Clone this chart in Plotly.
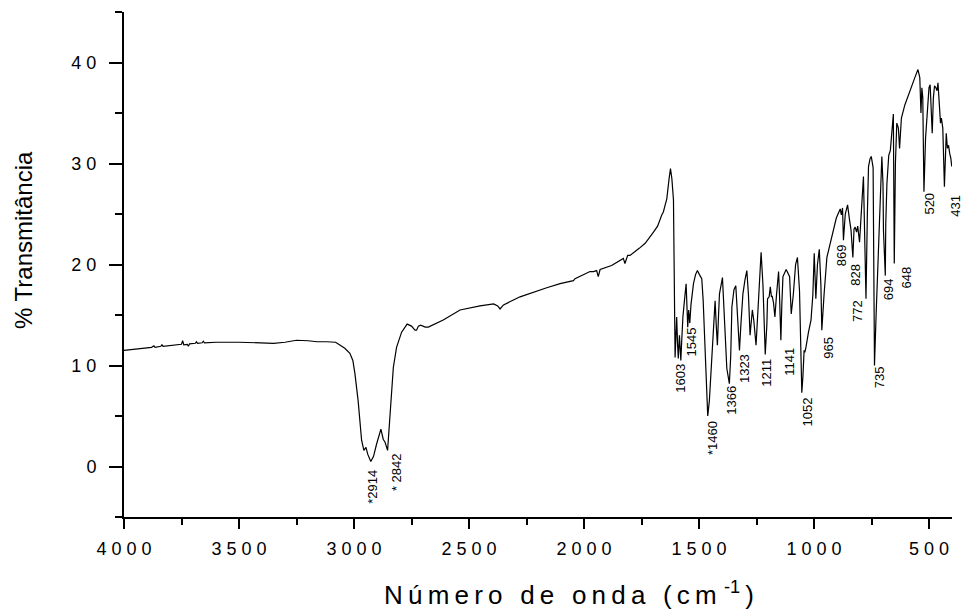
import plotly.graph_objects as go

# ---------------- data ----------------
wavenumber = [
    4000, 3960, 3920, 3880, 3870, 3865, 3840, 3835, 3830, 3800, 3750, 3745, 3740, 3725, 3720, 3715,
    3690, 3685, 3680, 3660, 3655, 3650, 3600, 3500, 3400, 3350, 3300, 3250, 3200, 3160, 3120, 3080,
    3060, 3040, 3018, 3005, 2996, 2982, 2967, 2957, 2948, 2940, 2927, 2915, 2902, 2883, 2873, 2865,
    2854, 2844, 2829, 2815, 2793, 2769, 2750, 2735, 2728, 2720, 2710, 2690, 2677, 2612, 2539, 2452,
    2393, 2375, 2365, 2350, 2278, 2162, 2104, 2046, 2039, 1974, 1959, 1945, 1938, 1930, 1916, 1880,
    1829, 1822, 1810, 1800, 1760, 1734, 1698, 1680, 1662, 1655, 1647, 1640, 1630, 1624, 1618, 1611,
    1604, 1601, 1597, 1593, 1590, 1585, 1579, 1575, 1570, 1563, 1556, 1551, 1549, 1545, 1540, 1535,
    1524, 1515, 1507, 1498, 1488, 1482, 1476, 1462, 1455, 1444, 1435, 1430, 1425, 1420, 1415, 1411,
    1398, 1394, 1391, 1385, 1379, 1368, 1362, 1357, 1348, 1340, 1332, 1328, 1324, 1318, 1309, 1300,
    1292, 1285, 1278, 1272, 1268, 1262, 1252, 1240, 1230, 1222, 1212, 1205, 1202, 1195, 1190, 1185,
    1182, 1176, 1170, 1163, 1154, 1150, 1144, 1140, 1135, 1121, 1110, 1106, 1099, 1090, 1080, 1072,
    1063, 1058, 1053, 1048, 1043, 1040, 1035, 1024, 1013, 1005, 999, 992, 985, 977, 970, 966,
    962, 956, 944, 922, 903, 886, 881, 876, 872, 864, 854, 846, 839, 831, 826, 821,
    815, 810, 802, 785, 774, 768, 763, 756, 751, 743, 737, 730, 719, 712, 705, 700,
    698, 690, 688, 683, 675, 668, 660, 655, 651, 646, 640, 633, 628, 620, 605, 590,
    575, 560, 548, 540, 535, 531, 527, 522, 515, 508, 500, 495, 490, 486, 481, 476,
    470, 465, 461, 455, 450, 446, 440, 433, 428, 425, 420, 415, 410, 405, 401,
]
transmittance = [
    11.5, 11.6, 11.7, 11.8, 11.95, 11.8, 11.9, 12.05, 11.9, 12.0, 12.1, 12.45, 12.05, 12.1, 11.9, 12.15,
    12.2, 12.35, 12.2, 12.25, 12.4, 12.25, 12.3, 12.3, 12.2, 12.2, 12.3, 12.5, 12.45, 12.35, 12.35, 12.3,
    12.0, 11.7, 11.2, 10.5, 9.2, 6.5, 2.6, 1.6, 1.9, 1.2, 0.5, 1.0, 2.2, 3.7, 2.7, 2.4,
    1.6, 4.9, 9.8, 11.8, 13.3, 14.1, 13.9, 13.5, 13.5, 13.9, 14.0, 13.8, 13.8, 14.5, 15.5, 15.9,
    16.1, 15.9, 15.6, 16.0, 16.8, 17.7, 18.1, 18.4, 18.6, 19.3, 19.3, 19.4, 18.8, 19.5, 19.6, 19.9,
    20.6, 20.1, 20.9, 20.9, 21.6, 22.1, 23.2, 23.8, 24.9, 25.2, 25.9, 26.5, 28.5, 29.5, 28.5, 26.4,
    10.8, 12.0, 14.8, 12.0, 10.7, 13.0, 10.5, 12.5, 14.8, 16.5, 18.1, 15.0, 13.8, 15.5, 14.2, 16.0,
    18.1, 19.0, 19.4, 19.0, 18.6, 16.5, 12.8, 5.0, 6.5, 10.8, 14.5, 16.4, 14.0, 12.0, 15.0, 17.1,
    18.7, 17.0, 14.5, 12.0, 9.7, 8.2, 11.0, 15.8, 17.5, 17.9, 15.0, 12.5, 11.5, 14.0, 17.1, 18.5,
    19.4, 17.0, 13.0, 14.5, 15.5, 14.5, 12.0, 17.0, 21.2, 18.0, 11.1, 14.0, 16.6, 16.8, 17.8, 16.8,
    16.9, 16.2, 14.8, 17.0, 19.3, 17.0, 12.5, 16.0, 18.8, 19.5, 19.0, 18.8, 15.1, 17.0, 20.0, 20.7,
    17.4, 12.0, 7.3, 9.0, 11.5, 11.3, 11.8, 13.3, 14.5, 17.0, 21.1, 16.6, 20.0, 21.5, 18.0, 13.5,
    15.5, 17.1, 20.7, 22.7, 24.6, 25.5, 24.9, 25.6, 22.4, 25.0, 25.9, 24.5, 23.4, 20.7, 23.5, 23.7,
    23.2, 23.8, 22.2, 28.7, 16.6, 25.0, 29.7, 30.5, 30.7, 29.6, 10.0, 15.0, 21.4, 27.0, 30.7, 28.0,
    23.4, 18.9, 24.0, 28.0, 30.8, 31.3, 34.0, 34.9, 20.1, 30.0, 34.0, 33.5, 31.5, 34.5, 35.8, 36.8,
    37.8, 38.6, 39.3, 38.5, 35.0, 37.5, 36.5, 27.2, 32.5, 34.5, 37.5, 37.8, 35.5, 33.0, 36.5, 37.7,
    37.5, 37.2, 38.0, 36.0, 34.0, 34.5, 33.5, 27.7, 32.5, 33.0, 31.5, 31.8, 31.0, 30.5, 29.7,
]

# peak labels and their centre positions (wavenumber, %T)
peak_labels = ["*2914", "* 2842", "1603", "1545", "*1460", "1366", "1323", "1211", "1141",
               "1052", "965", "869", "828", "772", "735", "694", "648", "520", "431"]
label_x = [2917, 2815, 1582, 1534, 1444, 1357, 1302, 1208, 1107,
           1028, 937, 879, 821, 809, 715, 676, 596, 497, 431]
label_y = [-2.0, -0.6, 8.7, 12.3, 2.8, 6.6, 9.7, 9.3, 10.4,
           5.4, 11.8, 20.9, 19.0, 15.4, 8.8, 17.5, 18.7, 26.0, 25.8]

x_tick_vals = [4000, 3500, 3000, 2500, 2000, 1500, 1000, 500]
y_tick_vals = [0, 10, 20, 30, 40]

x_title_words = ["Número", "de", "onda"]
y_title = "% Transmitância"


def spaced(s, sep=" "):
    return sep.join(list(s))


FONT = "Liberation Sans, Arial, sans-serif"
THIN = "\u2009"
NBSP = "\u00a0"

fig = go.Figure()
fig.add_trace(go.Scatter(
    x=wavenumber, y=transmittance, mode="lines",
    line=dict(color="black", width=1.2), hoverinfo="skip", showlegend=False,
))

annotations = []
for txt, lx, ly in zip(peak_labels, label_x, label_y):
    xv = max(lx, 400)
    annotations.append(dict(
        x=xv, y=ly, xref="x", yref="y", text=txt, showarrow=False, textangle=-90,
        xanchor="center", yanchor="middle", xshift=(11 if lx < 400 or txt == "431" else 0),
        font=dict(family=FONT, size=13, color="black"),
    ))

x_title = (THIN + NBSP + THIN).join(spaced(w, THIN) for w in x_title_words) \
    + THIN + NBSP + THIN + "(" + THIN + "c" + THIN + "m" + NBSP + "<sup>-1</sup>" + THIN + ")"
annotations.append(dict(
    x=(569 - 124) / 828, y=-(593 - 517) / 505, xref="paper", yref="paper",
    text=x_title, showarrow=False, xanchor="center", yanchor="middle",
    font=dict(family=FONT, size=26, color="black"),
))
annotations.append(dict(
    x=(24 - 124) / 828, y=(517 - 240) / 505, xref="paper", yref="paper",
    text=y_title, textangle=-90, showarrow=False,
    xanchor="center", yanchor="middle",
    font=dict(family=FONT, size=24, color="black"),
))

fig.update_layout(
    width=964, height=611,
    margin=dict(l=124, r=12, t=12, b=94),
    paper_bgcolor="white", plot_bgcolor="white",
    font=dict(family=FONT, color="black"),
    annotations=annotations,
    showlegend=False,
)
fig.update_xaxes(
    range=[4000, 400], autorange=False,
    showline=True, linecolor="black", linewidth=2, mirror=False,
    showgrid=False, zeroline=False,
    ticks="outside", ticklen=10, tickwidth=2, tickcolor="black",
    tickvals=x_tick_vals, ticktext=[spaced(str(v)) for v in x_tick_vals],
    tickfont=dict(family=FONT, size=18, color="black"),
    ticklabelstandoff=4,
    minor=dict(ticks="outside", dtick=250, ticklen=6, tickwidth=2, tickcolor="black", showgrid=False),
)
fig.update_yaxes(
    range=[-5, 45], autorange=False,
    showline=True, linecolor="black", linewidth=2, mirror=False,
    showgrid=False, zeroline=False,
    ticks="outside", ticklen=13, tickwidth=2, tickcolor="black",
    tickvals=y_tick_vals, ticktext=[spaced(str(v)) for v in y_tick_vals],
    tickfont=dict(family=FONT, size=18, color="black"),
    ticklabelstandoff=9,
    minor=dict(ticks="outside", dtick=5, ticklen=7, tickwidth=2, tickcolor="black", showgrid=False),
)

fig.write_html("out.html")
